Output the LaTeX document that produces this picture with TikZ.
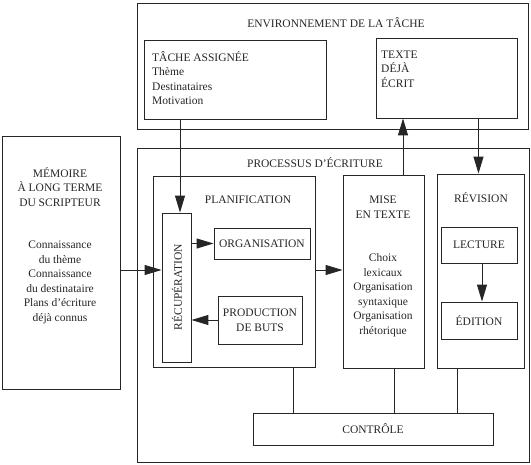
\documentclass[tikz,border=0pt]{standalone}
\usepackage{fontspec}
\setmainfont{Liberation Serif}
\usetikzlibrary{arrows.meta}

\tikzset{
  boite/.style={draw=black!85, line width=0.9pt, inner sep=0pt},
  texte/.style={font=\fontsize{11.5}{14.5}\selectfont, text=black!85, inner sep=0pt},
  fleche/.style={draw=black!85, line width=1pt, -{Triangle[length=17pt,width=10pt]}},
  trait/.style={draw=black!85, line width=0.9pt}
}

\begin{document}
\begin{tikzpicture}[x=1pt, y=-1pt]
\useasboundingbox (0,0) rectangle (531,464);

% environnement de la tache
\node[boite, minimum width=391pt, minimum height=126pt] (env) at (332.5,66) {};
\node[texte] (envtitre) at (336,23) {ENVIRONNEMENT DE LA TÂCHE};
\node[boite, minimum width=182pt, minimum height=79pt] (tache) at (235,79.5) {};
\node[texte, align=left, anchor=west] (tachetxt) at (152,78) {TÂCHE ASSIGNÉE\\Thème\\Destinataires\\Motivation};
\node[boite, minimum width=141pt, minimum height=80pt] (ecrit) at (446.5,78) {};
\node[texte, align=left, anchor=west] (ecrittxt) at (381,69) {TEXTE\\DÉJÀ\\ÉCRIT};

% memoire
\node[boite, minimum width=118pt, minimum height=253pt] (memoire) at (61,262.5) {};
\node[texte, align=center] (memtitre) at (60,187) {MÉMOIRE\\À LONG TERME\\DU SCRIPTEUR};
\node[texte, align=center] (memtxt) at (60,282.5) {Connaissance\\du thème\\Connaissance\\du destinataire\\Plans d'écriture\\déjà connus};

% processus
\node[boite, minimum width=392pt, minimum height=314pt] (processus) at (333,305) {};
\node[texte] (proctitre) at (315,163) {PROCESSUS D'ÉCRITURE};

\node[boite, minimum width=162pt, minimum height=191pt] (planif) at (234,271.5) {};
\node[texte] (planiftitre) at (248,200) {PLANIFICATION};
\node[boite, minimum width=29pt, minimum height=149pt] (recup) at (176.5,287.5) {};
\node[texte, rotate=90] (recuptxt) at (177,287) {RÉCUPÉRATION};
\node[boite, texte, minimum width=96pt, minimum height=31pt] (organisation) at (262,243.5) {ORGANISATION};
\node[boite, texte, align=center, minimum width=84pt, minimum height=48pt] (production) at (260,320) {PRODUCTION\\DE BUTS};

\node[boite, minimum width=81pt, minimum height=193pt] (mise) at (383.5,271.5) {};
\node[texte, align=center] (misetitre) at (383,207) {MISE\\EN TEXTE};
\node[texte, align=center] (misetxt) at (383,295) {Choix\\lexicaux\\Organisation\\syntaxique\\Organisation\\rhétorique};

\node[boite, minimum width=87pt, minimum height=194pt] (revision) at (480.5,271) {};
\node[texte] (revtitre) at (481,198) {RÉVISION};
\node[boite, texte, minimum width=76pt, minimum height=36pt] (lecture) at (479,245) {LECTURE};
\node[boite, texte, minimum width=76pt, minimum height=37pt] (edition) at (479,320.5) {ÉDITION};

\node[boite, texte, minimum width=240pt, minimum height=32pt] (controle) at (373,429) {CONTRÔLE};

\coordinate (niveau) at (0,270);

% connecteurs
\draw[fleche] ([xshift=3.5pt]recup.north |- tache.south) -- ([xshift=3.5pt]recup.north);
\draw[fleche] ([xshift=19.5pt]mise.north) -- ([xshift=19.5pt]mise.north |- ecrit.south);
\draw[fleche] ([xshift=-2pt]revision.north |- ecrit.south) -- ([xshift=-2pt]revision.north);
\draw[fleche] (memoire.east |- niveau) -- (recup.west |- niveau);
\draw[fleche] (planif.east |- niveau) -- (mise.west |- niveau);
\draw[fleche] (recup.east |- organisation.west) -- (organisation.west);
\draw[fleche] (production.west) -- (recup.east |- production.west);
\draw[fleche] ([xshift=3pt]lecture.south) -- ([xshift=3pt]edition.north);

\draw[trait] ([xshift=59pt]planif.south) -- ([xshift=59pt]planif.south |- controle.north);
\draw[trait] ([xshift=10.5pt]mise.south) -- ([xshift=10.5pt]mise.south |- controle.north);
\draw[trait] ([xshift=-23.5pt]revision.south) -- ([xshift=-23.5pt]revision.south |- controle.north);

\end{tikzpicture}
\end{document}
